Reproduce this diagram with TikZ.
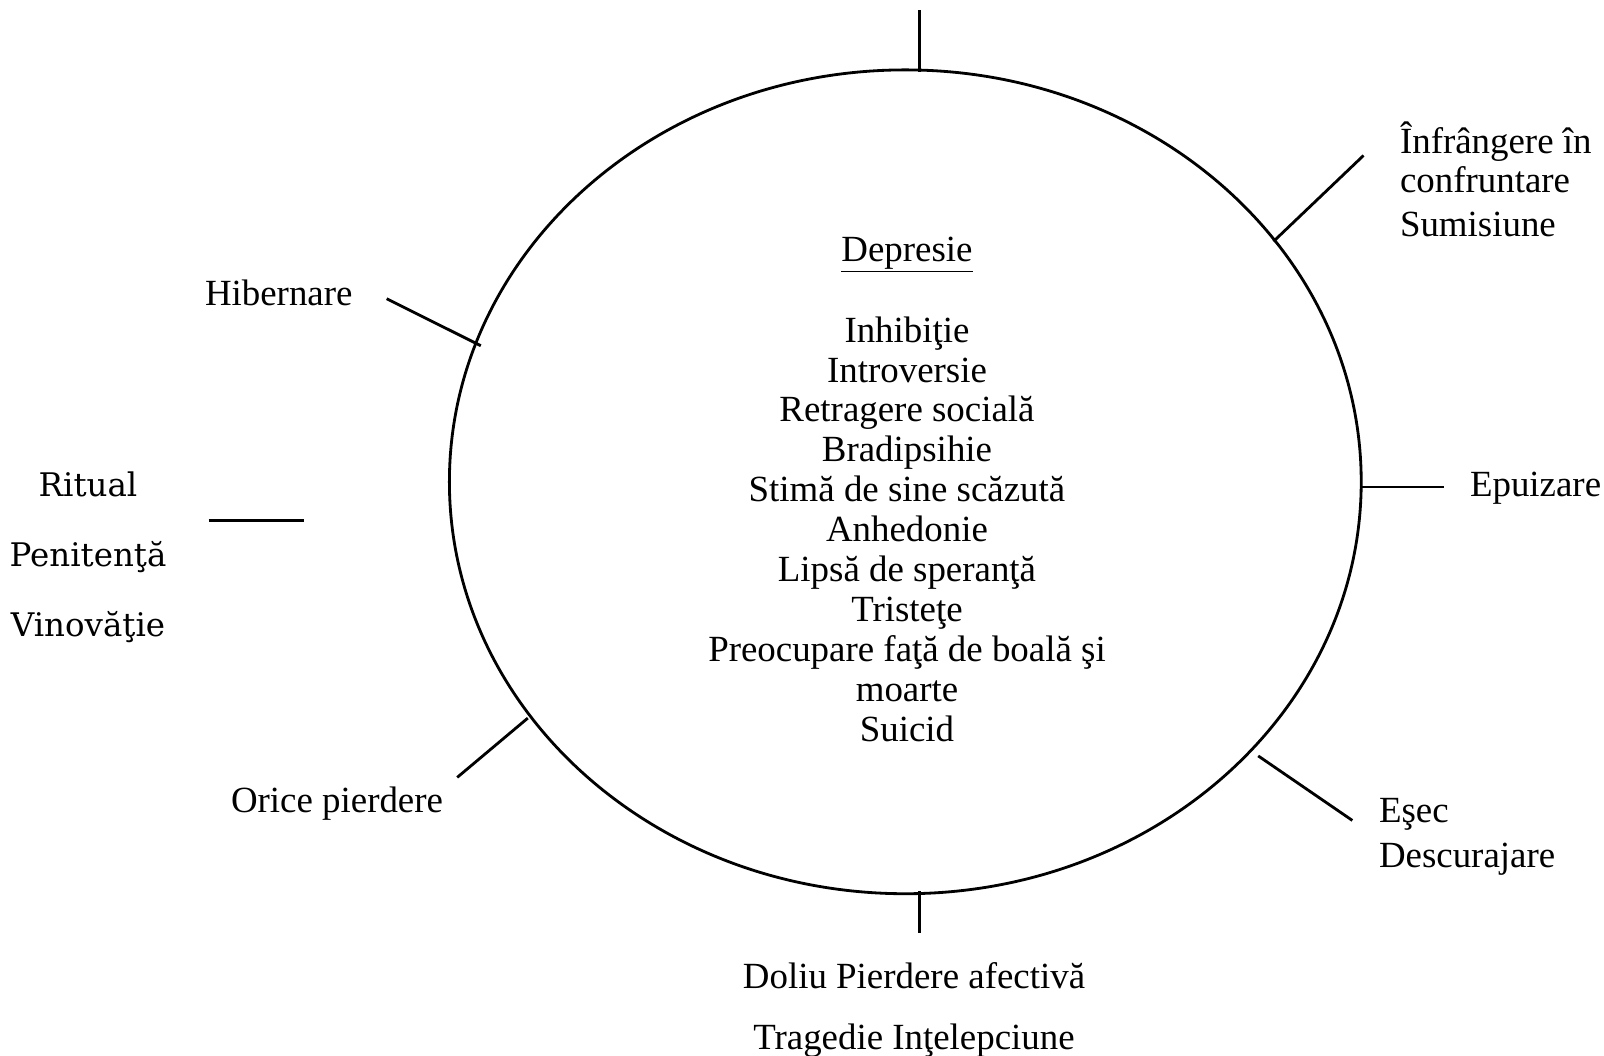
\documentclass[tikz,border=0pt]{standalone}
\usepackage{fontspec}
\setmainfont{Liberation Serif}
\newfontfamily\sidefont{DejaVu Serif}
\usetikzlibrary{positioning}
\tikzset{font=\fontsize{21}{22.7}\selectfont}
\tikzstyle{lbl} = [inner sep=0pt, outer sep=0pt, align=left]
\tikzstyle{cbox} = [inner sep=0pt, outer sep=0pt, align=center]
\tikzstyle{side} = [inner sep=0pt, outer sep=0pt, font=\sidefont\fontsize{18.5}{20}\selectfont]
\tikzstyle{tick} = [line width=1.6pt]
\tikzstyle{ring} = [line width=1.6pt]

\begin{document}
\begin{tikzpicture}[x=0.02cm, y=-0.02cm]
	\useasboundingbox (0,0) rectangle (1604,1055);

	% the ring
	\coordinate (ctr) at (905.3,481.8);
	\draw [ring] (ctr) ellipse [x radius=9.12cm, y radius=8.24cm];

	\node [cbox] (dep) at (907,255) {\underline{Depresie}};
	\node [cbox] (simpt) at (907,529) {Inhibiţie\\Introversie\\Retragere socială\\Bradipsihie\\Stimă de sine scăzută\\Anhedonie\\Lipsă de speranţă\\Tristeţe\\Preocupare faţă de boală şi\\moarte\\Suicid};

	% labels round it
	\node [lbl, anchor=west] (infr) at (1400,179) {Înfrângere în\\confruntare\\[2pt]Sumisiune};
	\node [lbl, anchor=west] (hib) at (205,293) {Hibernare};
	\node [lbl, anchor=west] (epu) at (1470,488) {Epuizare};
	\node [lbl, anchor=west] (orice) at (231,804) {Orice pierdere};
	\node [lbl, anchor=west] (esec) at (1379,837) {Eşec\\[3pt]Descurajare};
	\node [cbox] (doliu) at (914,976) {Doliu Pierdere afectivă};
	\node [cbox] (trag) at (914,1041) {Tragedie Inţelepciune};

	\node [side] (rit) at (88,484) {Ritual};
	\node [side] (pen) at (88,557) {Penitenţă};
	\node [side] (vin) at (88,627) {Vinovăţie};

	% tick ends
	\coordinate (t1) at (919.6,10);    \coordinate (t2) at (919.6,72);
	\coordinate (ir1) at (1363.5,155.5); \coordinate (ir2) at (1273.5,241.4);
	\coordinate (h1) at (386.7,298.7);  \coordinate (h2) at (480.8,345.7);
	\coordinate (e1) at (1361.5,487);   \coordinate (e2) at (1444.4,487);
	\coordinate (r1) at (208.7,520.7);  \coordinate (r2) at (303.8,520.7);
	\coordinate (o1) at (457.2,777.4);  \coordinate (o2) at (527.8,718.1);
	\coordinate (s1) at (1258.2,755.9); \coordinate (s2) at (1352.3,820.4);
	\coordinate (b1) at (919.6,891);    \coordinate (b2) at (919.6,933);

	\draw [tick] (t1) -- (t2);
	\draw [tick] (ir1) -- (ir2);
	\draw [tick] (h1) -- (h2);
	\draw [tick] (e1) -- (e2);
	\draw [tick] (r1) -- (r2);
	\draw [tick] (o1) -- (o2);
	\draw [tick] (s1) -- (s2);
	\draw [tick] (b1) -- (b2);
\end{tikzpicture}
\end{document}
